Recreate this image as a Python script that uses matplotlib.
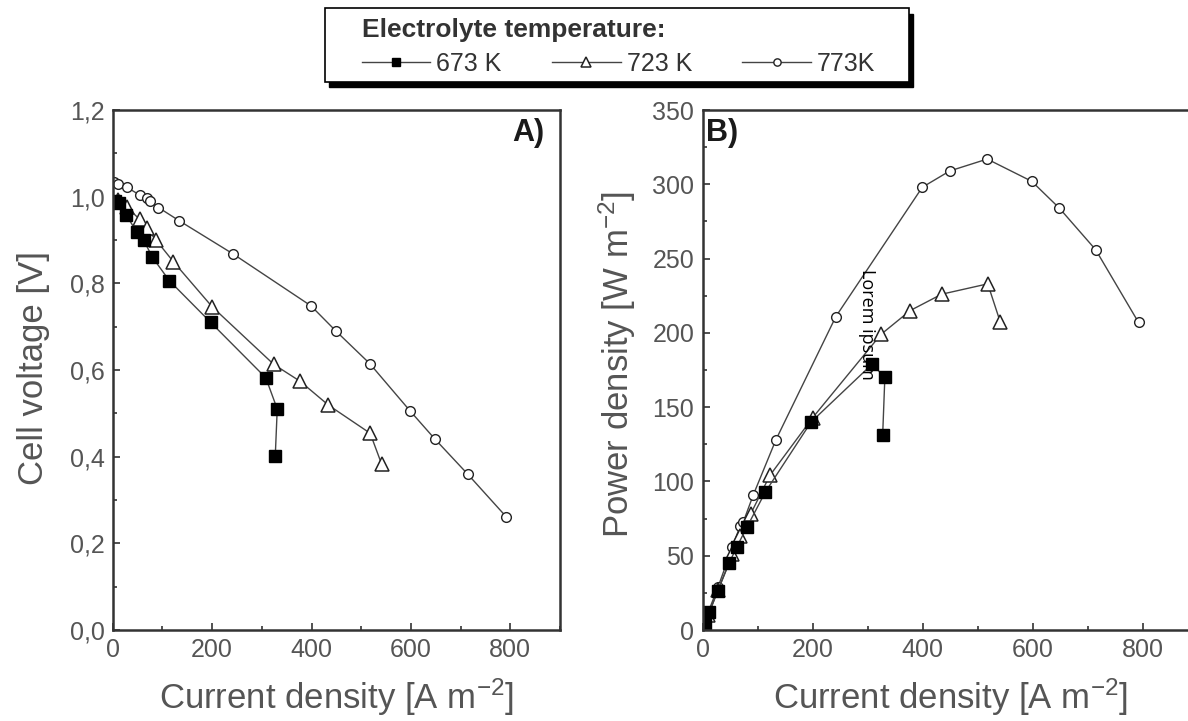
import matplotlib
matplotlib.use('Agg')
import matplotlib.pyplot as plt
from matplotlib.patches import Rectangle
from matplotlib.ticker import MultipleLocator, FuncFormatter

# Daten
temps = ['673 K', '723 K', '773K']

current_673 = [5, 12, 27, 48, 62, 80, 114, 197, 308, 331, 327]
voltage_673 = [0.99, 0.985, 0.958, 0.919, 0.900, 0.860, 0.806, 0.710, 0.582, 0.510, 0.401]
power_673 = [5, 12, 26, 45, 56, 69, 93, 140, 179, 170, 131]

current_723 = [10, 28, 54, 68, 87, 122, 200, 324, 377, 434, 518, 541]
voltage_723 = [0.992, 0.976, 0.948, 0.927, 0.900, 0.850, 0.746, 0.613, 0.574, 0.519, 0.454, 0.383]
power_723 = [10, 27, 51, 63, 78, 104, 143, 199, 215, 226, 233, 207]

current_773 = [3, 11, 28, 54, 68, 74, 92, 133, 242, 399, 449, 517, 598, 648, 714, 792]
voltage_773 = [1.035, 1.030, 1.022, 1.004, 0.996, 0.990, 0.975, 0.945, 0.868, 0.748,
               0.690, 0.615, 0.506, 0.441, 0.360, 0.261]
power_773 = [3, 13, 29, 56, 70, 73, 91, 128, 211, 298, 309, 317, 302, 284, 256, 207]

plt.rcParams['font.family'] = ['Liberation Sans', 'DejaVu Sans']
plt.rcParams['mathtext.default'] = 'regular'

fig = plt.figure(figsize=(11.88, 7.21), dpi=100)
ax1 = fig.add_axes([0.0949, 0.1262, 0.3765, 0.7212])
ax2 = fig.add_axes([0.5915, 0.1262, 0.4169, 0.7212])

line_kw = dict(color='#444444', lw=1.0)
sq = dict(marker='s', ms=8, mfc='black', mec='black', **line_kw)
tri = dict(marker='^', ms=10, mfc='white', mec='#222222', mew=1.1, **line_kw)
circ = dict(marker='o', ms=7, mfc='white', mec='#222222', mew=1.0, **line_kw)

# Grafik A: Zellspannung
ax1.plot(current_773, voltage_773, label=temps[2], **circ)
ax1.plot(current_723, voltage_723, label=temps[1], **tri)
ax1.plot(current_673, voltage_673, label=temps[0], **sq)

# Grafik B: Leistungsdichte
ax2.plot(current_773, power_773, **circ)
ax2.plot(current_723, power_723, **tri)
ax2.plot(current_673, power_673, **sq)

ax1.set_xlim(0, 900)
ax1.set_ylim(0, 1.2)
ax2.set_xlim(0, 900)
ax2.set_ylim(0, 350)

ax1.xaxis.set_major_locator(MultipleLocator(200))
ax1.xaxis.set_minor_locator(MultipleLocator(100))
ax1.yaxis.set_major_locator(MultipleLocator(0.2))
ax1.yaxis.set_minor_locator(MultipleLocator(0.1))
ax1.yaxis.set_major_formatter(FuncFormatter(lambda v, p: f'{v:.1f}'.replace('.', ',')))
ax2.xaxis.set_major_locator(MultipleLocator(200))
ax2.xaxis.set_minor_locator(MultipleLocator(100))
ax2.yaxis.set_major_locator(MultipleLocator(50))
ax2.yaxis.set_minor_locator(MultipleLocator(25))

for ax in (ax1, ax2):
    ax.tick_params(which='both', direction='in', top=False, right=False,
                   labelsize=18, labelcolor='#555555', color='#333333', width=1.2, pad=6)
    ax.tick_params(which='major', length=5)
    ax.tick_params(which='minor', length=3)
    for s in ax.spines.values():
        s.set_linewidth(1.8)
        s.set_color('#333333')
    ax.set_xlabel('Current density [A m$^{-2}$]', fontsize=25, color='#555555')
    ax.xaxis.set_label_coords(0.5, -0.09)

ax1.set_ylabel('Cell voltage [V]', fontsize=25, color='#555555')
ax1.yaxis.set_label_coords(-0.14, 0.504)
ax2.set_ylabel('Power density [W m$^{-2}$]', fontsize=25, color='#555555')
ax2.yaxis.set_label_coords(-0.13, 0.51)

ax1.text(0.965, 0.985, 'A)', transform=ax1.transAxes, ha='right', va='top',
         fontsize=22, fontweight='bold', color='#1a1a1a')
ax2.text(0.007, 0.985, 'B)', transform=ax2.transAxes, ha='left', va='top',
         fontsize=22, fontweight='bold', color='#1a1a1a')
ax2.text(298, 206, 'Lorem ipsum', rotation=-90, ha='center', va='center',
         fontsize=13, family=['Open Sans', 'DejaVu Sans'], color='black')

# Legende mit Rahmen und Schatten
W, H = 1188, 721
fig.add_artist(Rectangle((329 / W, 1 - 87 / H), 584 / W, 73.4 / H,
                         transform=fig.transFigure, facecolor='black',
                         edgecolor='black', zorder=1))
fig.add_artist(Rectangle((325 / W, 1 - 81.7 / H), 584 / W, 73.4 / H,
                         transform=fig.transFigure, facecolor='white',
                         edgecolor='black', lw=1.2, zorder=2))

h, l = ax1.get_legend_handles_labels()
order = [2, 1, 0]
leg = fig.legend([h[i] for i in order], [l[i] for i in order],
                 loc='upper left', bbox_to_anchor=(349 / W, 1 - 5 / H),
                 ncol=3, frameon=False, borderpad=0, fontsize=18,
                 title='Electrolyte temperature:', alignment='left',
                 title_fontproperties={'weight': 'bold', 'size': 19},
                 handlelength=2.75, handletextpad=0.25, columnspacing=2.0,
                 labelspacing=0.42, markerscale=0.75)
leg.set_zorder(3)
for t in leg.get_texts():
    t.set_color('#333333')
leg.get_title().set_color('#333333')

fig.savefig('out.png', dpi=100)
